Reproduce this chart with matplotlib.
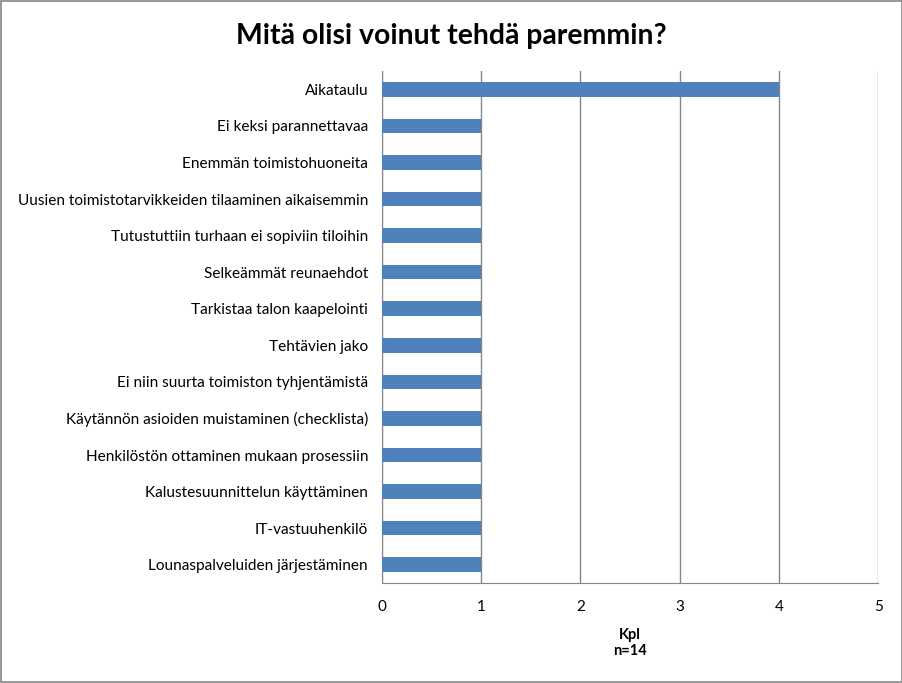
import matplotlib.pyplot as plt
from matplotlib.patches import Rectangle

categories = [
    'Aikataulu',
    'Ei keksi parannettavaa',
    'Enemmän toimistohuoneita',
    'Uusien toimistotarvikkeiden tilaaminen aikaisemmin',
    'Tutustuttiin turhaan ei sopiviin tiloihin',
    'Selkeämmät reunaehdot',
    'Tarkistaa talon kaapelointi',
    'Tehtävien jako',
    'Ei niin suurta toimiston tyhjentämistä',
    'Käytännön asioiden muistaminen (checklista)',
    'Henkilöstön ottaminen mukaan prosessiin',
    'Kalustesuunnittelun käyttäminen',
    'IT-vastuuhenkilö',
    'Lounaspalveluiden järjestäminen',
]
counts = [4, 1, 1, 1, 1, 1, 1, 1, 1, 1, 1, 1, 1, 1]

plt.rcParams['font.family'] = ['Lato', 'DejaVu Sans']

fig = plt.figure(figsize=(9.03, 6.83), dpi=100)
ax = fig.add_axes([0.423, 0.1464, 0.5495, 0.7496])

pos = list(range(len(categories)))[::-1]
ax.barh(pos, counts, height=0.4, color='#4F81BD', zorder=3)

ax.set_xlim(0, 5)
ax.set_ylim(-0.5, len(categories) - 0.5)
ax.set_yticks(pos)
ax.set_yticklabels(categories, fontsize=11.1)
ax.set_xticks(range(6))
ax.tick_params(axis='x', labelsize=11, length=0, pad=12)
ax.tick_params(axis='y', length=0, pad=10)
ax.grid(axis='x', color='#868686', linewidth=1, zorder=0)
for side in ['top', 'right']:
    ax.spines[side].set_visible(False)
for side in ['left', 'bottom']:
    ax.spines[side].set_color('#868686')

ax.set_xlabel('Kpl\nn=14', fontsize=10.5, fontweight='bold', labelpad=10)
fig.suptitle('Mitä olisi voinut tehdä paremmin?', fontsize=20.4, fontweight='bold', y=0.967)

fig.patches.append(Rectangle((0.001, 0.001), 0.998, 0.997, transform=fig.transFigure,
                             fill=False, edgecolor='#868686', linewidth=1.2))

fig.savefig('out.png', dpi=100)
